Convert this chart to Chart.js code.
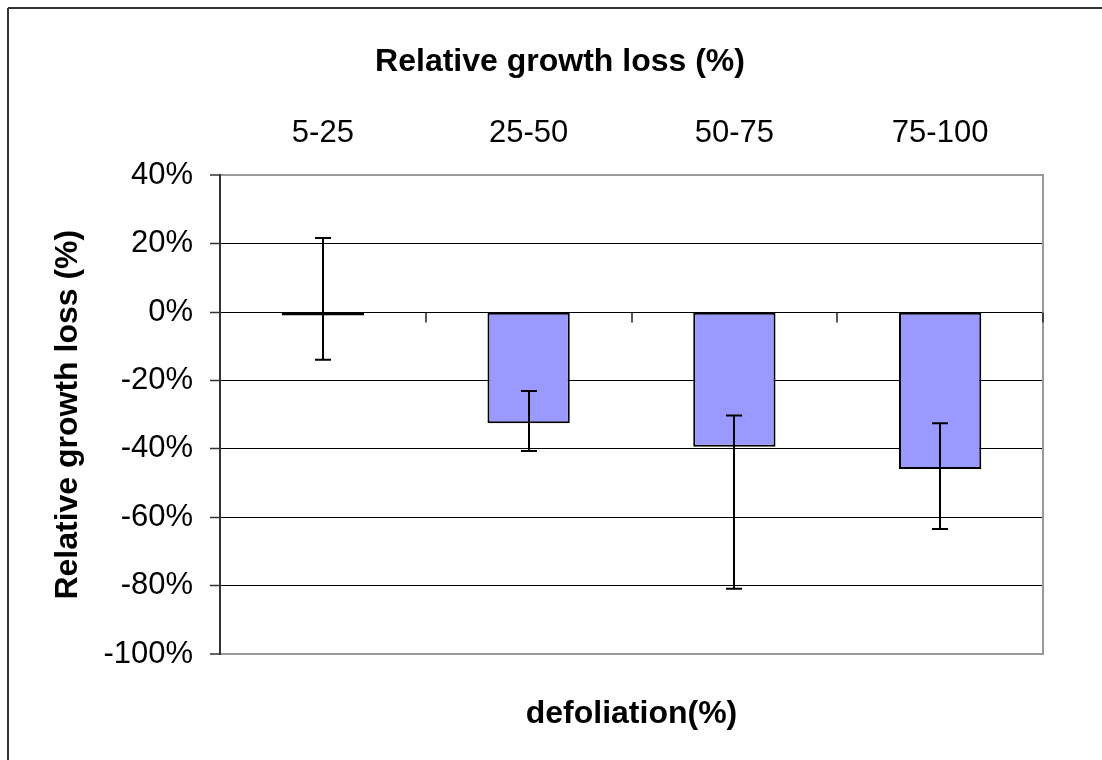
<!DOCTYPE html>
<html><head><meta charset="utf-8">
<script src="https://cdn.jsdelivr.net/npm/chart.js@4/dist/chart.umd.min.js"></script>
<style>html,body{margin:0;padding:0;background:#fff;overflow:hidden;}#wrap{width:1102px;height:760px;}</style>
</head><body><div id="wrap"><canvas id="c" width="1102" height="760"></canvas></div>
<script>
const categories = ['5-25', '25-50', '50-75', '75-100'];
const values = [-1.0, -32.5, -39.4, -45.9];
const errHigh = [21.7, -23.1, -30.2, -32.5];
const errLow = [-13.9, -40.6, -80.9, -63.4];
const yMin = -100, yMax = 40, yStep = 20;
const chartTitle = 'Relative growth loss (%)';
const yTitle = 'Relative growth loss (%)';
const xTitle = 'defoliation(%)';

const FONT = "'Liberation Sans', Arial, sans-serif";

const framePlugin = {
  id: 'frame',
  beforeDraw(chart) {
    const ctx = chart.ctx;
    ctx.save();
    ctx.fillStyle = '#fff';
    ctx.fillRect(0, 0, chart.width, chart.height);
    ctx.strokeStyle = '#333';
    ctx.lineWidth = 2;
    ctx.beginPath();
    ctx.moveTo(8, 8); ctx.lineTo(chart.width, 8);
    ctx.moveTo(8, 8); ctx.lineTo(8, chart.height);
    ctx.stroke();
    ctx.restore();
  }
};

const zeroAxisPlugin = {
  id: 'zeroAxis',
  afterDatasetsDraw(chart) {
    const ctx = chart.ctx, xs = chart.scales.x, ys = chart.scales.y;
    const y0 = Math.round(ys.getPixelForValue(0)) + 0.5;
    ctx.save();
    ctx.strokeStyle = '#222';
    ctx.lineWidth = 1.5;
    ctx.beginPath();
    for (let i = 1; i <= categories.length; i++) {
      const x = Math.round(xs.getPixelForValue(i - 0.5));
      ctx.moveTo(x, y0); ctx.lineTo(x, y0 + 10);
    }
    ctx.stroke();
    ctx.restore();
  }
};

const errorBarPlugin = {
  id: 'errorBars',
  afterDatasetsDraw(chart) {
    const ctx = chart.ctx, ys = chart.scales.y;
    const meta = chart.getDatasetMeta(0);
    ctx.save();
    ctx.strokeStyle = '#000';
    ctx.lineWidth = 2;
    meta.data.forEach((bar, i) => {
      const x = Math.round(bar.x);
      const yh = ys.getPixelForValue(errHigh[i]);
      const yl = ys.getPixelForValue(errLow[i]);
      ctx.beginPath();
      ctx.moveTo(x, yh); ctx.lineTo(x, yl);
      ctx.moveTo(x - 8, yh); ctx.lineTo(x + 8, yh);
      ctx.moveTo(x - 8, yl); ctx.lineTo(x + 8, yl);
      ctx.stroke();
    });
    ctx.restore();
  }
};

new Chart(document.getElementById('c'), {
  type: 'bar',
  data: {
    labels: categories,
    datasets: [{
      data: values,
      backgroundColor: '#9999FF',
      borderColor: '#000',
      borderWidth: 2,
      borderSkipped: false,
      categoryPercentage: 1,
      barPercentage: 0.4
    }]
  },
  options: {
    responsive: false,
    animation: false,
    devicePixelRatio: 1,
    layout: { padding: { left: 18, right: 0, top: 0, bottom: 0 } },
    plugins: {
      legend: { display: false },
      tooltip: { enabled: false },
      title: {
        display: true,
        text: chartTitle,
        color: '#000',
        font: { family: FONT, size: 32, weight: 'bold' },
        padding: { top: 43, bottom: 8 }
      }
    },
    scales: {
      x: {
        type: 'category',
        position: 'top',
        offset: true,
        grid: { display: false, drawTicks: false, tickLength: 0 },
        border: { display: false },
        ticks: { color: '#000', font: { family: FONT, size: 31 }, padding: 23, maxRotation: 0 },
        afterFit(s) { s.height = 86; }
      },
      x2: {
        type: 'category',
        position: 'bottom',
        labels: categories,
        grid: { display: false, drawTicks: false },
        border: { display: false },
        ticks: { display: false },
        title: { display: true, text: xTitle, color: '#000', font: { family: FONT, size: 32, weight: 'bold' }, padding: { top: 0, bottom: 27 } },
        afterFit(s) { s.height = 106; }
      },
      y: {
        position: 'left',
        min: yMin, max: yMax,
        ticks: {
          stepSize: yStep,
          color: '#000',
          font: { family: FONT, size: 31 },
          padding: 17,
          callback: v => v + '%'
        },
        grid: {
          color: c => (c.tick && (c.tick.value === yMax || c.tick.value === yMin)) ? '#999' : '#000',
          lineWidth: c => (c.tick && (c.tick.value === yMax || c.tick.value === yMin)) ? 2 : 1,
          tickColor: '#333',
          tickLength: 10,
          tickWidth: 1.5
        },
        border: { display: true, color: '#333', width: 2 },
        title: { display: true, text: yTitle, color: '#000', font: { family: FONT, size: 32, weight: 'bold' }, padding: { top: 31, bottom: 0 } },
        afterFit(s) { s.width = 202; }
      },
      yR: {
        position: 'right',
        min: yMin, max: yMax,
        grid: { display: false, drawTicks: false },
        ticks: { display: false },
        border: { display: true, color: '#999', width: 2 },
        afterFit(s) { s.width = 59; }
      }
    }
  },
  plugins: [framePlugin, zeroAxisPlugin, errorBarPlugin]
});
</script>
</body></html>
